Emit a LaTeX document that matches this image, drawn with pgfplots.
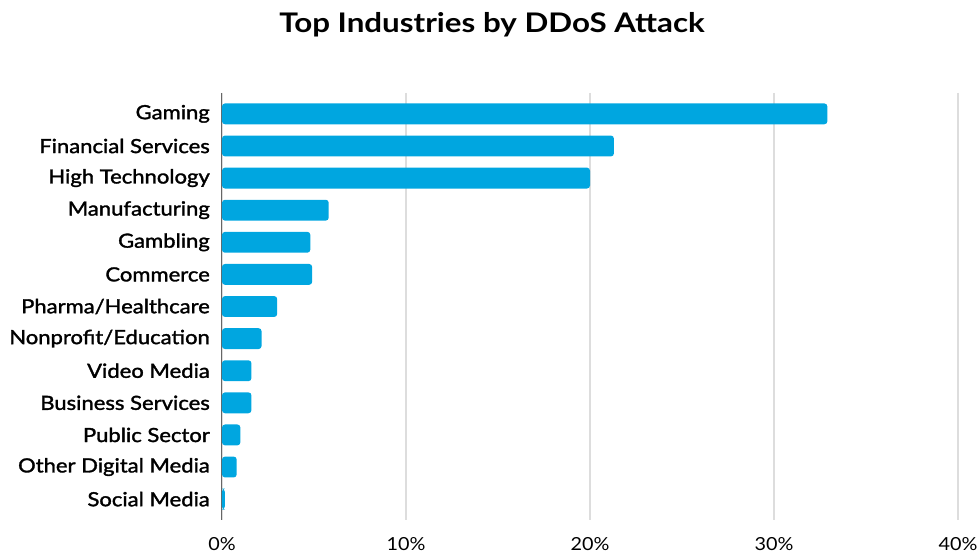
\documentclass[border=0pt]{standalone}
\usepackage{fontspec}
\setmainfont{Lato}[FakeStretch=1.1]
\newfontfamily\medfont{Lato}[FakeStretch=1.13, FakeBold=1.6]
\newfontfamily\titlefont{Lato}[FakeStretch=1.16]
\usepackage{pgfplots}
\pgfplotsset{compat=1.18}
\definecolor{barblue}{HTML}{00A6E0}
\definecolor{gridgray}{HTML}{DDDDDD}
\definecolor{axisgray}{HTML}{666666}
\begin{document}
\begin{tikzpicture}
\begin{axis}[
  name=ax,
  scale only axis,
  width=736pt, height=427pt,
  xbar, bar width=0.65,
  xmin=0, xmax=40,
  ymin=-0.65, ymax=12.65,
  y dir=reverse,
  xtick={0,10,20,30,40},
  xticklabel={\pgfmathprintnumber{\tick}\%},
  /pgf/number format/assume math mode=true,
  ytick={0,...,12},
  yticklabels={Gaming,Financial Services,High Technology,Manufacturing,Gambling,Commerce,Pharma/Healthcare,Nonprofit/Education,Video Media,Business Services,Public Sector,Other Digital Media,Social Media},
  major tick length=0pt,
  xmajorgrids,
  grid style={gridgray, line width=1.3pt},
  axis lines*=left,
  x axis line style={draw=none},
  y axis line style={draw=axisgray, line width=1pt, -},
  xticklabel style={font=\fontsize{18}{21}\selectfont, inner sep=0pt, anchor=north, yshift=-17pt},
  yticklabel style={font=\medfont\fontsize{19.5}{22}\selectfont, inner sep=0pt, anchor=east, xshift=-12pt},
  clip=false,
]
\addplot[fill=barblue, draw=none, rounded corners=3pt] coordinates {
(32.9,0) (21.3,1) (20.0,2) (5.8,3) (4.8,4) (4.9,5) (3.0,6) (2.15,7) (1.6,8) (1.6,9) (1.0,10) (0.8,11) (0.15,12)
};
\end{axis}
\node[anchor=base, font=\titlefont\bfseries\fontsize{27}{32}\selectfont] at ([xshift=270pt, yshift=60pt]ax.north west) {Top Industries by DDoS Attack};
\path ([xshift=-222pt, yshift=-36pt]ax.south west) rectangle ([xshift=20pt, yshift=93pt]ax.north east);
\end{tikzpicture}
\end{document}
